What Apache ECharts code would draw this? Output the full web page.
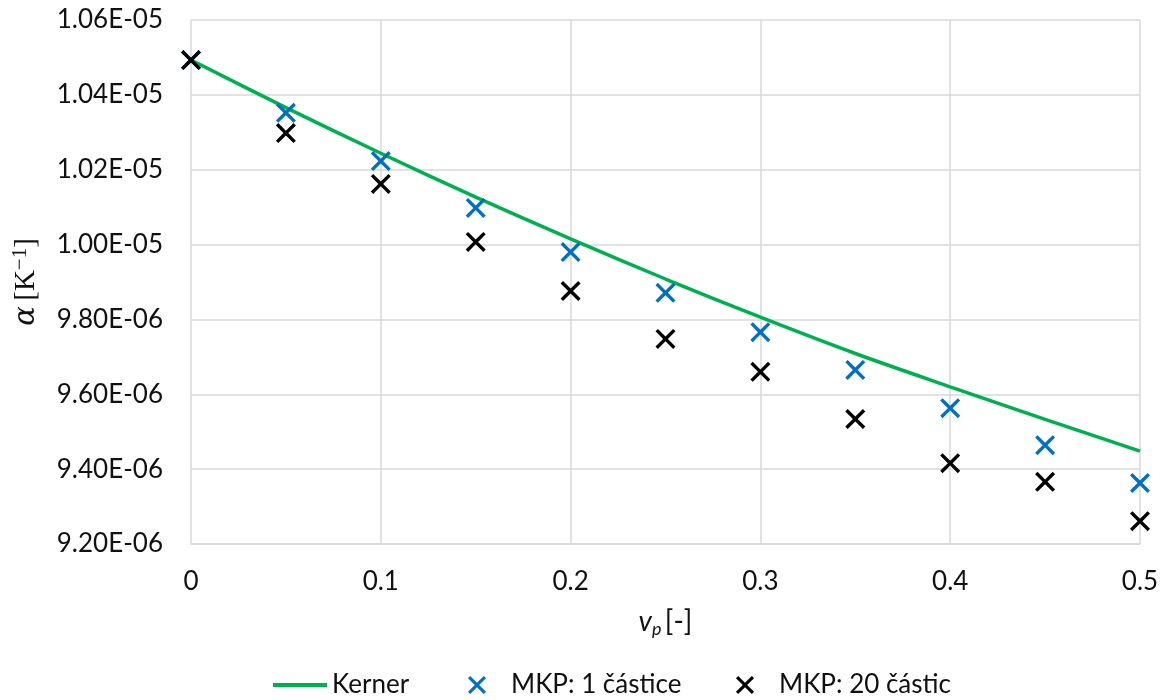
<!DOCTYPE html>
<html><head><meta charset="utf-8">
<script src="https://cdn.jsdelivr.net/npm/echarts@6/dist/echarts.min.js"></script>
<style>html,body{margin:0;padding:0;background:#fff}#c{width:1163px;height:700px}</style>
</head><body><div id="c"></div>
<script>
const vp = [0, 0.05, 0.1, 0.15, 0.2, 0.25, 0.3, 0.35, 0.4, 0.45, 0.5];
const kerner = [10.493e-6, 10.366e-6, 10.244e-6, 10.127e-6, 10.015e-6, 9.908e-6, 9.806e-6, 9.709e-6, 9.620e-6, 9.533e-6, 9.448e-6];
const mkp1 = [10.493e-6, 10.352e-6, 10.223e-6, 10.098e-6, 9.980e-6, 9.871e-6, 9.766e-6, 9.665e-6, 9.563e-6, 9.464e-6, 9.363e-6];
const mkp20 = [10.493e-6, 10.298e-6, 10.162e-6, 10.007e-6, 9.876e-6, 9.748e-6, 9.660e-6, 9.534e-6, 9.416e-6, 9.366e-6, 9.261e-6];
const seriesNames = ['Kerner', 'MKP: 1 částice', 'MKP: 20 částic'];
const xTickLabels = ['0', '0.1', '0.2', '0.3', '0.4', '0.5'];

const pair = arr => vp.map((x, i) => [x, arr[i]]);
const X = 'path://M0,2.4L2.4,0L10,7.6L17.6,0L20,2.4L12.4,10L20,17.6L17.6,20L10,12.4L2.4,20L0,17.6L7.6,10Z';
const font = 'Lato, "Open Sans", "Liberation Sans", sans-serif';
const txt = '#111111';
function fmtE(v) {
  let s = v.toExponential(2);
  let [m, e] = s.split('e');
  let sign = e[0] === '-' ? '-' : '+';
  let n = Math.abs(parseInt(e, 10));
  return m + 'E' + sign + (n < 10 ? '0' + n : n);
}
const legendBase = { top: 672, itemHeight: 22, padding: 0, textStyle: { fontSize: 26, color: txt, fontFamily: font } };
const chart = echarts.init(document.getElementById('c'));
chart.setOption({
  animation: false,
  grid: { left: 191, right: 23, top: 20, bottom: 156 },
  xAxis: {
    type: 'value', min: 0, max: 0.5, interval: 0.1,
    axisLine: { show: true, lineStyle: { color: '#d9d9d9', width: 1.5 } },
    axisTick: { show: false },
    splitLine: { show: true, lineStyle: { color: '#d9d9d9', width: 1.5 } },
    axisLabel: { fontSize: 26, color: txt, fontFamily: font, margin: 25,
      formatter: v => xTickLabels[Math.round(v * 10)] },
    name: '{i|v}{s|p} {n|[-]}', nameLocation: 'middle', nameGap: 62,
    nameTextStyle: { rich: {
      i: { fontSize: 28, fontStyle: 'italic', fontFamily: font, color: txt },
      s: { fontSize: 18, fontStyle: 'italic', fontFamily: font, color: txt, verticalAlign: 'bottom', padding: [14, 0, 0, 0] },
      n: { fontSize: 28, fontFamily: font, color: txt } } }
  },
  yAxis: {
    type: 'value', min: 9.2e-6, max: 10.6e-6, interval: 0.2e-6,
    axisLine: { show: false }, axisTick: { show: false },
    splitLine: { show: true, lineStyle: { color: '#d9d9d9', width: 1.5 } },
    axisLabel: { fontSize: 26, color: txt, fontFamily: font, margin: 28, formatter: fmtE },
    name: '{a|α}{sp| }{b|[K}{c|−1}{b|]}', nameLocation: 'middle', nameGap: 148, nameRotate: 90,
    nameTextStyle: { rich: {
      a: { fontSize: 29, fontStyle: 'italic', fontFamily: '"DejaVu Serif", serif', color: txt },
      sp: { fontSize: 20, color: txt },
      b: { fontSize: 29, fontFamily: '"Liberation Serif", "DejaVu Serif", serif', color: txt },
      c: { fontSize: 21, fontFamily: '"Liberation Serif", "DejaVu Serif", serif', color: txt, verticalAlign: 'top', padding: [0, 0, 12, 0] } } }
  },
  legend: [
    Object.assign({}, legendBase, { left: 273, itemWidth: 54,
      data: [{ name: seriesNames[0], icon: 'path://M0,0L54,0L54,4L0,4Z' }] }),
    Object.assign({}, legendBase, { left: 468, itemWidth: 18,
      textStyle: Object.assign({}, legendBase.textStyle, { padding: [0, 0, 0, 20] }),
      data: [{ name: seriesNames[1] }] }),
    Object.assign({}, legendBase, { left: 736, itemWidth: 18,
      textStyle: Object.assign({}, legendBase.textStyle, { padding: [0, 0, 0, 20] }),
      data: [{ name: seriesNames[2] }] })
  ],
  series: [
    { name: seriesNames[0], type: 'line', data: pair(kerner), smooth: 0.3, showSymbol: false, symbol: 'none',
      lineStyle: { color: '#00B050', width: 3.5 }, itemStyle: { color: '#00B050' }, z: 2 },
    { name: seriesNames[1], type: 'scatter', data: pair(mkp1), symbol: X, symbolSize: 20,
      itemStyle: { color: '#0070C0', opacity: 1 }, z: 3, clip: false },
    { name: seriesNames[2], type: 'scatter', data: pair(mkp20), symbol: X, symbolSize: 20,
      itemStyle: { color: '#000000', opacity: 1 }, z: 3, clip: false }
  ]
});
</script></body></html>
